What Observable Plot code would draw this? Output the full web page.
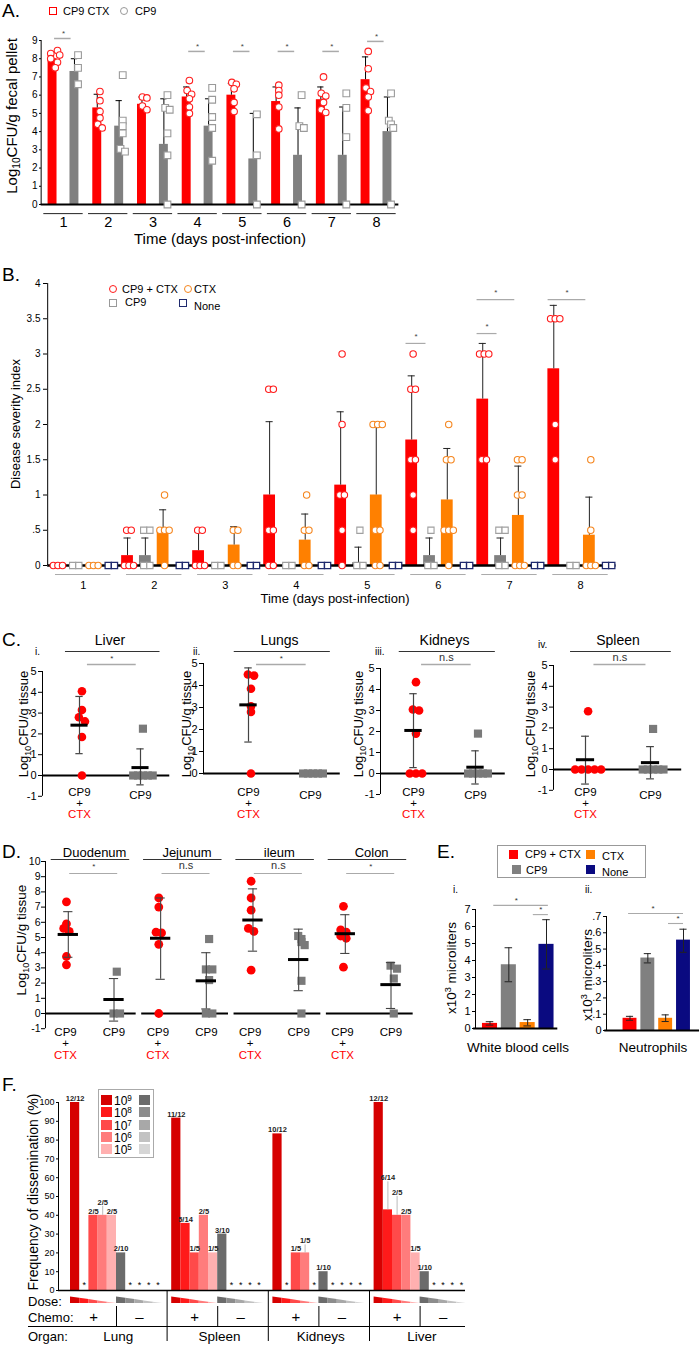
<!DOCTYPE html>
<html><head><meta charset="utf-8">
<script src="https://cdn.jsdelivr.net/npm/d3@7"></script>
<script src="https://cdn.jsdelivr.net/npm/@observablehq/plot@0.6"></script>
<style>
body{margin:0;background:#fff;}
#fig{position:relative;width:700px;height:1345px;overflow:hidden;font-family:"Liberation Sans",Arial,sans-serif;color:#000;background:#fff;}
.t{position:absolute;white-space:nowrap;line-height:1;}
.sw{position:absolute;box-sizing:border-box;}
.sp{position:relative;font-size:0.68em;top:-0.5em;}
.sb{position:relative;font-size:0.68em;top:0.3em;}
</style></head><body><div id="fig"></div>
<script>
// ================= DATA =================
// Panel A: Log10 CFU/g fecal pellet by day
const aDays = [1,2,3,4,5,6,7,8];
const aRedMean = [8.0,5.3,5.5,5.9,6.0,5.65,5.75,6.85];
const aRedErr  = [8.35,6.05,5.9,6.45,6.65,6.45,6.45,8.1];
const aGrayMean = [7.3,4.3,3.3,4.3,2.5,2.7,2.7,4.0];
const aGrayErr  = [8.0,5.7,5.8,5.8,5.0,5.3,5.35,5.9];
const aRedPts = [
  [8.28,8.0,8.45,8.2,7.8,7.5],
  [6.2,5.7,5.1,4.75,4.4,4.2],
  [5.9,5.85,5.4,5.2],
  [6.8,6.25,6.05,5.8,5.35,5.0],
  [6.7,6.6,6.35,5.6,5.1],
  [6.55,6.25,6.0,5.35,4.15],
  [7.0,6.1,5.95,5.6,5.2,5.05],
  [8.4,7.45,6.4,6.2,5.9,5.15]];
const aGrayPts = [
  [8.2,7.5,6.6],
  [7.1,4.6,4.3,3.9,3.05,2.9],
  [6.0,5.3,5.2,3.9,2.7,0],
  [6.4,5.75,4.8,4.2,2.4],
  [4.95,2.7,0],
  [6.0,4.3,4.2,0],
  [6.1,5.3,3.7,0],
  [6.1,4.6,4.4,4.2,0]];
const aSigDays = [1,4,5,6,7,8];
const aSigY = [9.11,8.4,8.4,8.4,8.4,8.95];

// Panel B: disease severity index
const bDays = [1,2,3,4,5,6,7,8];
const bGroups = ["CP9 + CTX","CP9","CTX","None"];
const bRedMean = [0,0.14,0.21,1.0,1.14,1.78,2.36,2.79];
const bGrayMean = [0,0.14,0,0,0.04,0.14,0.14,0];
const bOrangeMean = [0,0.5,0.29,0.36,1.0,0.93,0.71,0.43];
const bNavyMean = [0,0,0,0,0,0,0,0];
const bRedErr = [null,0.39,0.48,2.04,2.18,2.69,3.15,3.69];
const bGrayErr = [null,0.39,null,null,0.26,0.39,0.39,null];
const bOrangeErr = [null,0.79,0.55,0.73,1.97,1.66,1.41,0.97];
const bNavyErr = [null,null,null,null,null,null,null,null];
const bRedPts = [[0,0,0],[0.5,0.5,0,0,0],[0.5,0.5,0,0,0],[2.5,2.5,0.5,0.5,0,0],[3,2,1,1,0.5,0],[3,2.5,2.5,1.5,1.5,1,0.5],[3,3,3,1.5,1.5],[3.5,3.5,3.5,2,1.5]];
const bGrayPts = [[0,0],[0.5,0.5,0,0],[0,0],[0,0],[0.5,0,0],[0.5,0,0],[0.5,0.5,0,0],[0,0]];
const bOrangePts = [[0,0,0],[1,0.5,0.5,0.5,0],[0.5,0.5,0,0],[1,0.5,0.5,0,0],[2,2,2,0.5,0.5,0,0],[2,1.5,1.5,0.5,0.5,0.5,0],[1.5,1.5,1,1,0,0,0],[1.5,0.5,0,0,0]];
const bNavyPts = [[0,0],[0,0],[0,0],[0,0],[0,0],[0,0],[0,0],[0,0]];
const bSigDay = [6,7,7,8];
const bSigY = [3.15,3.29,3.77,3.77];
const bSigFrom = [0,0,0,0];   // group index
const bSigTo = [1,1,2,2];

// Panel C: organ CFU
const cOrgans = ["Liver","Lungs","Kidneys","Spleen"];
const cRoman = ["i.","ii.","iii.","iv."];
const cRedPts = [[4.05,3.15,2.8,2.6,1.85,0],[4.5,4.45,3.85,3.05,2.8,0],[4.35,3.05,3.0,1.9,0,0,0],[2.8,0,0,0,0,0]];
const cRedMean = [2.42,3.12,2.05,0.47];
const cRedLo = [1.05,1.43,0.28,-0.7];
const cRedHi = [3.8,4.8,3.8,1.6];
const cGrayPts = [[2.25,0,0,0,0,0],[0,0,0,0,0],[1.9,0,0,0,0,0],[1.95,0,0,0,0,0]];
const cGrayMean = [0.38,0,0.3,0.33];
const cGrayLo = [-0.45,0,-0.5,-0.45];
const cGrayHi = [1.28,0,1.08,1.1];
const cSig = ["*","*","n.s","n.s"];

// Panel D: intestinal CFU
const dOrgans = ["Duodenum","Jejunum","ileum","Colon"];
const dRedPts = [[7.35,5.9,5.6,5.4,3.75,3.2],[7.6,7.0,5.35,5.3,4.55,0],[8.7,7.6,6.8,5.6,5.4,2.85],[7.05,5.5,5.35,5.1,4.95,3.05]];
const dRedMean = [5.2,4.95,6.15,5.25];
const dRedLo = [3.7,2.25,4.1,3.95];
const dRedHi = [6.7,7.6,8.2,6.5];
const dGrayPts = [[2.75,0,0],[4.9,2.9,2.9,2.2,0,0],[5.1,4.9,4.7,4.5,2.15,0],[3.15,2.95,2.3,0]];
const dGrayMean = [0.92,2.15,3.55,1.9];
const dGrayLo = [-0.5,0.3,1.5,0.33];
const dGrayHi = [2.3,4.0,5.55,3.35];
const dSig = ["*","n.s","n.s","*"];

// Panel E: blood counts
const eGroups = ["CP9 + CTX","CP9","CTX","None"];
const eColors = ["#ff0000","#808080","#ff8000","#0a0a80"];
const eWbcMean = [0.3,3.75,0.35,4.95];
const eWbcLo = [0.2,2.75,0.15,3.5];
const eWbcHi = [0.4,4.75,0.52,6.4];
const eNeuMean = [0.075,0.445,0.075,0.555];
const eNeuLo = [0.063,0.415,0.055,0.48];
const eNeuHi = [0.087,0.472,0.096,0.622];

// Panel F: dissemination frequency
const fOrgans = ["Lung","Spleen","Kidneys","Liver"];
const fDoses = ["9","8","7","6","5"];
const fPlusVals = [[100,0,40,40,40],[91.7,35.7,20,40,20],[83.3,0,20,20,0],[100,42.9,40,40,20]];
const fMinusVals = [[20,0,0,0,0],[30,0,0,0,0],[10,0,0,0,0],[10,0,0,0,0]];
const fPlusLabels = [["12/12","","2/5","2/5","2/5"],["11/12","5/14","1/5","2/5","1/5"],["10/12","","1/5","1/5",""],["12/12","6/14","2/5","2/5","1/5"]];
const fMinusLabels = [["2/10","","","",""],["3/10","","","",""],["1/10","","","",""],["1/10","","","",""]];
const fRedShades = ["#d60000","#ff1a1a","#ff4a4a","#ff7c7c","#ffb0b0"];
const fGrayShades = ["#6b6b6b","#8c8c8c","#a8a8a8","#c2c2c2","#d6d6d6"];
const fPlusLift = [[0,0,0,9,0],[0,0,0,0,0],[0,0,0,8,0],[0,28,19,0,0]];

// ================= HELPERS =================
const fig = document.getElementById("fig");
const FONT = '"Liberation Sans", Arial, sans-serif';
const baseStyle = {fontFamily: FONT, fontSize: "11px", background: "transparent", overflow: "visible", color: "#000"};
const intFmt = d => String(Math.round(d * 100) / 100);
function txt(html, x, y, o = {}) {
  const d = document.createElement("div");
  d.className = "t"; d.innerHTML = html;
  d.style.left = x + "px"; d.style.top = y + "px";
  d.style.fontSize = (o.size || 12) + "px";
  if (o.color) d.style.color = o.color;
  if (o.weight) d.style.fontWeight = o.weight;
  const ax = o.anchor === "middle" ? "-50%" : o.anchor === "end" ? "-100%" : "0";
  d.style.transform = o.rotate ? `translate(-50%,-50%) rotate(${o.rotate}deg)` : `translate(${ax},-50%)`;
  fig.appendChild(d); return d;
}
function swatch(x, y, w, h, st) {
  const d = document.createElement("div"); d.className = "sw";
  Object.assign(d.style, {left: x + "px", top: y + "px", width: w + "px", height: h + "px"}, st);
  fig.appendChild(d); return d;
}
function place(svg, left, top) {
  svg.style.position = "absolute"; svg.style.left = left + "px"; svg.style.top = top + "px";
  fig.appendChild(svg);
}
function dodge(vals, step, thr) {
  return vals.map((v, i) => {
    const idx = [];
    vals.forEach((w, j) => { if (Math.abs(w - v) < thr) idx.push(j); });
    const r = idx.indexOf(i);
    return (r - (idx.length - 1) / 2) * step;
  });
}

// ================= PANEL A =================
{
  const top = 25;
  const offR = -0.245, offG = 0.245, hw = 0.1, cap = 0.07;
  const bars = aDays.flatMap((d, i) => [
    {x: d + offR, y: aRedMean[i], e: aRedErr[i], c: "#ff0000"},
    {x: d + offG, y: aGrayMean[i], e: aGrayErr[i], c: "#808080"}]);
  const rdots = aDays.flatMap((d, i) => { const o = dodge(aRedPts[i], 0.1, 0.22); return aRedPts[i].map((v, j) => ({x: d + offR + 0.06 + o[j], y: v})); });
  const gdots = aDays.flatMap((d, i) => { const o = dodge(aGrayPts[i], 0.1, 0.22); return aGrayPts[i].map((v, j) => ({x: d + offG + 0.08 + o[j], y: v})); });
  const sig = aSigDays.map((d, i) => ({d, y: aSigY[i]}));
  const svg = Plot.plot({
    width: 410, height: 230, marginLeft: 41, marginTop: 0, marginRight: 0, marginBottom: 0,
    x: {domain: [1, 8], range: [63, 376], axis: null},
    y: {domain: [0, 9], range: [204 - top, 40 - top]},
    color: {type: "identity"}, style: baseStyle,
    marks: [
      Plot.rectY(bars, {x1: d => d.x - hw, x2: d => d.x + hw, y1: 0, y2: "y", fill: "c"}),
      Plot.ruleX(bars, {x: "x", y1: "y", y2: "e", stroke: "#000"}),
      Plot.ruleY(bars, {y: "e", x1: d => d.x - cap, x2: d => d.x + cap, stroke: "#000"}),
      Plot.ruleX([0.5], {y1: 0, y2: 9, stroke: "#000"}),
      Plot.ruleY([0], {x1: 0.5, x2: 8.5, strokeWidth: 2}),
      Plot.axisY({ticks: d3.range(0, 10), tickFormat: intFmt, tickSize: 2, tickPadding: 2, fontSize: 10, label: null}),
      Plot.dot(rdots, {x: "x", y: "y", r: 3.3, stroke: "#ff2020", fill: "#fff", strokeWidth: 1.1}),
      Plot.dot(gdots, {x: "x", y: "y", r: 3.8, symbol: "square", stroke: "#9a9a9a", fill: "#fff", strokeWidth: 1.1}),
      Plot.ruleY(aDays, {y: -0.5, x1: d => d - 0.44, x2: d => d + 0.44, stroke: "#222"}),
      Plot.text(aDays, {x: d => d, y: -1.0, text: d => String(d), fontSize: 14.5}),
      Plot.ruleY(sig, {y: "y", x1: d => d.d - 0.2, x2: d => d.d + 0.17, stroke: "#aaa", strokeWidth: 1.5}),
      Plot.text(sig, {x: d => d.d, y: "y", dy: -5, text: () => "*", fontSize: 8, fill: "#444"})
    ]
  });
  place(svg, 0, top);
  txt("A.", 2, 10, {size: 19});
  swatch(49, 6.5, 8, 8, {border: "1.5px solid #ff0000"});
  txt("CP9 CTX", 63, 11, {size: 11});
  swatch(120, 7, 8, 8, {border: "1.2px solid #999", borderRadius: "50%"});
  txt("CP9", 135, 11, {size: 11});
  txt('Log<span class="sb">10</span>CFU/g fecal pellet', 12, 116, {size: 15, rotate: -90});
  txt("Time (days post-infection)", 220, 238, {size: 15, anchor: "middle"});
}

// ================= PANEL B =================
{
  const top = 270;
  const offs = [-0.376, -0.125, 0.125, 0.376];
  const hw = 0.083, cap = 0.05;
  const means = [bRedMean, bGrayMean, bOrangeMean, bNavyMean];
  const errs = [bRedErr, bGrayErr, bOrangeErr, bNavyErr];
  const pts = [bRedPts, bGrayPts, bOrangePts, bNavyPts];
  const cols = ["#ff0000", "#808080", "#ff8000", "#1f2a6e"];
  const pstroke = ["#ff1a1a", "#a0a0a0", "#f5861f", "#1f2a6e"];
  const bars = [];
  bDays.forEach((d, i) => bGroups.forEach((g, k) => bars.push({x: d + offs[k], y: means[k][i], e: errs[k][i], c: cols[k]})));
  const ebars = bars.filter(b => b.e != null);
  const dots = [[], [], [], []];
  bDays.forEach((d, i) => bGroups.forEach((g, k) => {
    const step = (k % 2) ? 0.088 : 0.065;
    const o = dodge(pts[k][i], step, 0.1);
    pts[k][i].forEach((v, j) => dots[k].push({x: d + offs[k] + 0.02 + o[j], y: v}));
  }));
  const sig = bSigDay.map((d, i) => ({x1: d + offs[bSigFrom[i]] - 0.08, x2: d + offs[bSigTo[i]] - 0.05, y: bSigY[i]}));
  const svg = Plot.plot({
    width: 700, height: 345, marginLeft: 47, marginTop: 0, marginRight: 0, marginBottom: 0,
    x: {domain: [1, 8], range: [82.7, 580], axis: null},
    y: {domain: [0, 4], range: [565 - top, 283 - top]},
    color: {type: "identity"}, style: baseStyle,
    marks: [
      Plot.rectY(bars, {x1: d => d.x - hw, x2: d => d.x + hw, y1: 0, y2: "y", fill: "c"}),
      Plot.ruleX(ebars, {x: "x", y1: "y", y2: "e", stroke: "#222"}),
      Plot.ruleY(ebars, {y: "e", x1: d => d.x - cap, x2: d => d.x + cap, stroke: "#222"}),
      Plot.ruleX([0.5], {y1: 0, y2: 4, stroke: "#000"}),
      Plot.ruleY([0], {x1: 0.5, x2: 8.5, strokeWidth: 2.5}),
      Plot.axisY({ticks: d3.range(0, 4.01, 0.5), tickFormat: d => d === 0.5 ? ".5" : String(d), tickSize: 4, tickPadding: 3, fontSize: 10, label: null}),
      Plot.dot(dots[0], {x: "x", y: "y", r: 3.2, stroke: pstroke[0], fill: "#fff", strokeWidth: 1.1}),
      Plot.dot(dots[1], {x: "x", y: "y", r: 3.5, symbol: "square", stroke: pstroke[1], fill: "#fff", strokeWidth: 1.1}),
      Plot.dot(dots[2], {x: "x", y: "y", r: 3.2, stroke: pstroke[2], fill: "#fff", strokeWidth: 1.1}),
      Plot.dot(dots[3], {x: "x", y: "y", r: 3.5, symbol: "square", stroke: pstroke[3], fill: "#fff", strokeWidth: 1.3}),
      Plot.ruleY(bDays, {y: -0.128, x1: d => d - 0.39, x2: d => d + 0.39, stroke: "#aaa"}),
      Plot.text(bDays, {x: d => d, y: -0.284, text: d => String(d), fontSize: 11}),
      Plot.ruleY(sig, {y: "y", x1: "x1", x2: "x2", stroke: "#aaa", strokeWidth: 1.2}),
      Plot.text(sig, {x: d => (d.x1 + d.x2) / 2, y: "y", dy: -7, text: () => "*", fontSize: 8, fill: "#444"})
    ]
  });
  place(svg, 0, top);
  txt("B.", 2, 274, {size: 19});
  swatch(109, 285, 8, 8, {border: "1.2px solid #ff1a1a", borderRadius: "50%"});
  txt("CP9 + CTX", 122, 289, {size: 11});
  swatch(184, 285, 8, 8, {border: "1.2px solid #f5861f", borderRadius: "50%"});
  txt("CTX", 194, 289, {size: 11});
  swatch(109, 299, 8, 8, {border: "1.2px solid #999"});
  txt("CP9", 125, 302, {size: 11});
  swatch(179, 299, 8, 8, {border: "1.3px solid #1f2a6e"});
  txt("None", 194, 306, {size: 11});
  txt("Disease severity index", 15, 424, {size: 13, rotate: -90});
  txt("Time (days post-infection)", 335, 598, {size: 13, anchor: "middle"});
}

// ================= PANEL C =================
const cLayout = [
  {axis: 42, xr: 79, xg: 140, y0: 775, unit: 20.8, ymin: -1, romanX: 35, romanY: 652, labX: 23},
  {axis: 203, xr: 248, xg: 310, y0: 773, unit: 22, ymin: 0, romanX: 193, romanY: 652, labX: 186},
  {axis: 380, xr: 413, xg: 475, y0: 773, unit: 21, ymin: -1, romanX: 375, romanY: 652, labX: 358},
  {axis: 553, xr: 585, xg: 650, y0: 769, unit: 20.8, ymin: -1, romanX: 538, romanY: 645, labX: 530}];
cOrgans.forEach((org, i) => {
  const L = cLayout[i];
  const left = L.axis - 45, top = 620;
  const Y = py => (L.y0 - py) / L.unit;
  const X = px => (px - L.xr) / (L.xg - L.xr);
  const rd = dodge(cRedPts[i], 0.1, 0.2), gd = dodge(cGrayPts[i], 0.08, 0.2);
  const rdots = cRedPts[i].map((v, j) => ({x: 0.04 + rd[j], y: v}));
  const gdots = cGrayPts[i].map((v, j) => ({x: 1.04 + gd[j], y: v}));
  const stats = [{x: 0, m: cRedMean[i], lo: cRedLo[i], hi: cRedHi[i]}, {x: 1, m: cGrayMean[i], lo: cGrayLo[i], hi: cGrayHi[i]}];
  const estats = stats.filter(s => s.hi > s.lo);
  const labels = [{x: 0, py: 792, t: "CP9", c: "#000"}, {x: 0, py: 803, t: "+", c: "#000"}, {x: 0, py: 814, t: "CTX", c: "#ff0000"}, {x: 1, py: 795, t: "CP9", c: "#000"}];
  const svg = Plot.plot({
    width: 180, height: 200, marginLeft: 45, marginTop: 0, marginRight: 0, marginBottom: 0,
    x: {domain: [0, 1], range: [L.xr - left, L.xg - left], axis: null},
    y: {domain: [0, 5], range: [L.y0 - top, L.y0 - 5 * L.unit - top]},
    color: {type: "identity"}, style: baseStyle,
    marks: [
      Plot.ruleX([X(L.axis)], {y1: L.ymin, y2: 5, stroke: "#000"}),
      Plot.axisY({ticks: d3.range(L.ymin, 6), tickFormat: intFmt, tickSize: 4, tickPadding: 2, fontSize: 11, label: null}),
      Plot.ruleY([0], {x1: X(L.axis), x2: 1.48, strokeWidth: 2}),
      Plot.dot(rdots, {x: "x", y: "y", r: 4.3, fill: "#ff0000"}),
      Plot.dot(gdots, {x: "x", y: "y", r: 4.6, symbol: "square", fill: "#7a7a7a"}),
      Plot.ruleX(estats, {x: "x", y1: "lo", y2: "hi", stroke: "#444", strokeWidth: 1.2}),
      Plot.ruleY(estats, {y: "lo", x1: d => d.x - 0.06, x2: d => d.x + 0.06, stroke: "#444", strokeWidth: 1.2}),
      Plot.ruleY(estats, {y: "hi", x1: d => d.x - 0.06, x2: d => d.x + 0.06, stroke: "#444", strokeWidth: 1.2}),
      Plot.ruleY(stats.filter(s => s.m > 0), {y: "m", x1: d => d.x - 0.14, x2: d => d.x + 0.14, strokeWidth: 3, stroke: "#000"}),
      Plot.text([org], {x: 0.5, y: Y(640), text: d => d, fontSize: 14}),
      Plot.ruleY([Y(651)], {x1: -0.23, x2: 1.32, stroke: "#333", strokeWidth: 1.2}),
      Plot.ruleY([Y(664)], {x1: 0.13, x2: 0.93, stroke: "#aaa", strokeWidth: 1.3}),
      Plot.text([cSig[i]], {x: 0.53, y: Y(cSig[i] === "*" ? 658 : 657), text: d => d, fontSize: cSig[i] === "*" ? 8 : 11, fill: "#333"}),
      Plot.text(labels, {x: "x", y: d => Y(d.py), text: "t", fill: "c", fontSize: 11.5})
    ]
  });
  place(svg, left, top);
  txt(cRoman[i], L.romanX, L.romanY, {size: 10});
  txt('Log<span class="sb">10</span>CFU/g tissue', L.labX, 724, {size: 13, rotate: -90});
});
txt("C.", 2, 639, {size: 19});

// ================= PANEL D =================
{
  const top = 835;
  const offR = -0.265, offG = 0.26;
  const U = 15.2, y0 = 1013;
  const Y = py => (y0 - py) / U;
  const rdots = [], gdots = [], stats = [], labels = [];
  dOrgans.forEach((o, k) => {
    const rd = dodge(dRedPts[k], 0.06, 0.25), gd = dodge(dGrayPts[k], 0.07, 0.25);
    dRedPts[k].forEach((v, j) => rdots.push({x: k + offR + 0.01 + rd[j], y: v}));
    dGrayPts[k].forEach((v, j) => gdots.push({x: k + offG + 0.03 + gd[j], y: v}));
    stats.push({x: k + offR + 0.03, m: dRedMean[k], lo: dRedLo[k], hi: dRedHi[k]});
    stats.push({x: k + offG, m: dGrayMean[k], lo: dGrayLo[k], hi: dGrayHi[k]});
    labels.push({x: k + offR, py: 1032, t: "CP9", c: "#000"}, {x: k + offR, py: 1043, t: "+", c: "#000"}, {x: k + offR, py: 1055, t: "CTX", c: "#ff0000"}, {x: k + offG, py: 1032, t: "CP9", c: "#000"});
  });
  const ks = dOrgans.map((o, k) => k);
  const xAxis = (45 - 89.5) / 92.33;
  const svg = Plot.plot({
    width: 430, height: 240, marginLeft: 45, marginTop: 0, marginRight: 0, marginBottom: 0,
    x: {domain: [0, 3], range: [89.5, 366.5], axis: null},
    y: {domain: [0, 10], range: [y0 - top, 861 - top]},
    color: {type: "identity"}, style: baseStyle,
    marks: [
      Plot.ruleX([xAxis], {y1: -1, y2: 10, stroke: "#000"}),
      Plot.axisY({ticks: d3.range(-1, 11), tickFormat: intFmt, tickSize: 4, tickPadding: 1, fontSize: 10.5, label: null}),
      Plot.ruleY(ks, {y: 0, x1: k => k === 0 ? xAxis : k - 0.44, x2: k => k + 0.5, strokeWidth: 2}),
      Plot.dot(rdots, {x: "x", y: "y", r: 4.4, fill: "#ff0000"}),
      Plot.dot(gdots, {x: "x", y: "y", r: 4.6, symbol: "square", fill: "#7a7a7a"}),
      Plot.ruleX(stats, {x: "x", y1: "lo", y2: "hi", stroke: "#444", strokeWidth: 1.1}),
      Plot.ruleY(stats, {y: "lo", x1: d => d.x - 0.05, x2: d => d.x + 0.05, stroke: "#444", strokeWidth: 1.1}),
      Plot.ruleY(stats, {y: "hi", x1: d => d.x - 0.05, x2: d => d.x + 0.05, stroke: "#444", strokeWidth: 1.1}),
      Plot.ruleY(stats, {y: "m", x1: d => d.x - 0.11, x2: d => d.x + 0.11, strokeWidth: 3, stroke: "#000"}),
      Plot.text(dOrgans, {x: (d, k) => k + 0.05, y: Y(852), text: d => d, fontSize: 13}),
      Plot.ruleY(ks, {y: Y(859), x1: k => k - 0.42, x2: k => k + 0.43, stroke: "#333", strokeWidth: 1.2}),
      Plot.ruleY(ks, {y: Y(873), x1: k => k - 0.22, x2: k => k + 0.3, stroke: "#aaa", strokeWidth: 1.2}),
      Plot.text(dSig, {x: (d, k) => k + 0.04, y: d => Y(d === "*" ? 866 : 865), text: d => d, fontSize: d => d === "*" ? 8 : 11, fill: "#333"}),
      Plot.text(labels, {x: "x", y: d => Y(d.py), text: "t", fill: "c", fontSize: 11.5})
    ]
  });
  place(svg, 0, top);
  txt("D.", 2, 851, {size: 19});
  txt('Log<span class="sb">10</span>CFU/g tissue', 22, 940, {size: 13.5, rotate: -90});
}

// ================= PANEL E =================
function drawE(o) {
  const top = 880;
  const bars = eGroups.map((g, k) => ({x: k, m: o.mean[k], lo: o.lo[k], hi: o.hi[k], c: eColors[k]}));
  const xAxis = (o.axisPx - o.xPx[0]) / ((o.xPx[1] - o.xPx[0]) / 3);
  const svg = Plot.plot({
    width: 135, height: 160, marginLeft: o.axisPx - o.left, marginTop: 0, marginRight: 0, marginBottom: 0,
    x: {domain: [0, 3], range: [o.xPx[0] - o.left, o.xPx[1] - o.left], axis: null},
    y: {domain: [0, o.yMax], range: [o.y0Px - top, o.yTopPx - top]},
    color: {type: "identity"}, style: baseStyle,
    marks: [
      Plot.rectY(bars, {x1: d => d.x - o.hw, x2: d => d.x + o.hw, y1: 0, y2: "m", fill: "c"}),
      Plot.ruleX(bars, {x: "x", y1: "lo", y2: "hi", stroke: "#222"}),
      Plot.ruleY(bars, {y: "lo", x1: d => d.x - 0.2, x2: d => d.x + 0.2, stroke: "#222"}),
      Plot.ruleY(bars, {y: "hi", x1: d => d.x - 0.2, x2: d => d.x + 0.2, stroke: "#222"}),
      Plot.ruleX([xAxis], {y1: 0, y2: o.yMax, stroke: "#000"}),
      Plot.ruleY([0], {x1: xAxis - 0.1, x2: o.baseEnd, strokeWidth: 2}),
      Plot.axisY({ticks: o.ticks, tickFormat: o.fmt, tickSize: 3, tickPadding: 2, fontSize: 11, label: null}),
      Plot.ruleY(o.sig, {y: "y", x1: "a", x2: "b", stroke: "#aaa", strokeWidth: 1.1}),
      Plot.text(o.sig, {x: "t", y: "y", dy: -5, text: () => "*", fontSize: 8, fill: "#333"})
    ]
  });
  place(svg, o.left, top);
}
drawE({left: 440, axisPx: 475, xPx: [489.5, 546], y0Px: 1028, yTopPx: 909, yMax: 7, hw: 0.4,
  ticks: d3.range(0, 8), fmt: d => String(d), mean: eWbcMean, lo: eWbcLo, hi: eWbcHi, baseEnd: 3.6,
  sig: [{y: 7.24, a: 0.2, b: 3.1, t: 1.4}, {y: 6.7, a: 2.3, b: 3.1, t: 2.7}]});
drawE({left: 570, axisPx: 606, xPx: [629.5, 683], y0Px: 1030, yTopPx: 916, yMax: 0.7, hw: 0.39,
  ticks: d3.range(0, 0.71, 0.1), fmt: d => d < 0.01 ? "0" : "." + Math.round(d * 10), mean: eNeuMean, lo: eNeuLo, hi: eNeuHi, baseEnd: 3.9,
  sig: [{y: 0.718, a: -0.08, b: 3.0, t: 1.3}, {y: 0.657, a: 2.16, b: 3.0, t: 2.7}]});
{
  txt("E.", 437, 851, {size: 19});
  swatch(497, 845, 149, 33, {border: "1px solid #999", background: "#fff"});
  swatch(509, 850, 9, 9, {background: eColors[0]});
  txt(eGroups[0], 525, 854, {size: 11});
  swatch(586, 850, 9, 9, {background: eColors[2]});
  txt(eGroups[2], 602, 856, {size: 11});
  swatch(512, 865, 9, 9, {background: eColors[1]});
  txt(eGroups[1], 526, 870, {size: 11});
  swatch(586, 865, 9, 9, {background: eColors[3]});
  txt(eGroups[3], 602, 872, {size: 11});
  txt("i.", 453, 890, {size: 10});
  txt("ii.", 585, 890, {size: 10});
  txt('x10<span class="sp">3</span> microliters', 452, 968, {size: 13.5, rotate: -90});
  txt('x10<span class="sp">3</span> microliters', 588, 975, {size: 13.5, rotate: -90});
  txt("White blood cells", 518, 1048, {size: 13.5, anchor: "middle"});
  txt("Neutrophils", 653, 1048, {size: 13.5, anchor: "middle"});
}

// ================= PANEL F =================
{
  const top = 1085;
  const U = 1.88;
  const fy = px => -px / U;
  const bars = [];
  fOrgans.forEach((org, o) => {
    fPlusVals[o].forEach((v, s) => bars.push({x: o * 11 + s, v, c: fRedShades[s], lab: fPlusLabels[o][s], lift: fPlusLift[o][s]}));
    fMinusVals[o].forEach((v, s) => bars.push({x: o * 11 + 5 + s, v, c: fGrayShades[s], lab: fMinusLabels[o][s], lift: 0}));
  });
  const nz = bars.filter(b => b.v > 0), zs = bars.filter(b => b.v === 0);
  const lifted = nz.filter(b => b.lift > 0);
  const wedge = [];
  fOrgans.forEach((org, o) => [0, 1].forEach(g => fDoses.forEach((dz, s) => {
    const x0 = o * 11 + g * 5 - 0.5, x1 = x0 + 5;
    const a = x0 + s, b = a + 1;
    const c = g ? fGrayShades[s] : fRedShades[s];
    const z = `${o}-${g}-${s}`;
    wedge.push({x: a, h: (x1 - a) / 5, z, c}, {x: b, h: (x1 - b) / 5, z, c});
  })));
  const xAxis = (58 - 74.6) / 9.2;
  const xEnd = (465 - 74.6) / 9.2;
  const svg = Plot.plot({
    width: 480, height: 260, marginLeft: 58, marginTop: 0, marginRight: 0, marginBottom: 0,
    x: {domain: [0, 33], range: [74.6, 378.2], axis: null},
    y: {domain: [0, 100], range: [1290 - top, 1102 - top]},
    color: {type: "identity"}, style: baseStyle,
    marks: [
      Plot.rectY(nz, {x1: d => d.x - 0.5, x2: d => d.x + 0.5, y1: 0, y2: "v", fill: "c"}),
      Plot.ruleX([xAxis], {y1: 0, y2: 100, stroke: "#000"}),
      Plot.axisY({ticks: d3.range(0, 101, 10), tickFormat: intFmt, tickSize: 2, tickPadding: 2, fontSize: 9, label: null}),
      Plot.ruleY([0], {x1: xAxis, x2: xEnd, strokeWidth: 1.6}),
      Plot.ruleX(lifted, {x: "x", y1: "v", y2: d => d.v + d.lift / U, stroke: "#aaa", strokeWidth: 0.8}),
      Plot.text(nz, {x: "x", y: d => d.v + d.lift / U, dy: -4, text: "lab", fontSize: 7.5, fontWeight: "bold", fill: "#222"}),
      Plot.text(zs, {x: "x", y: 0, dy: -5, text: () => "*", fontSize: 9}),
      Plot.areaY(wedge, {x: "x", y1: fy(13), y2: d => fy(13 - 6.5 * d.h), z: "z", fill: "c"}),
      Plot.ruleX(fOrgans.map((o, k) => k * 11 + 4.5), {y1: fy(16), y2: fy(36), stroke: "#000"}),
      Plot.ruleX([10, 21, 32], {y1: fy(1), y2: fy(51), stroke: "#000"}),
      Plot.ruleY([fy(36)], {x1: (28 - 74.6) / 9.2, x2: xEnd, stroke: "#000"}),
      Plot.text(fOrgans, {x: (d, k) => k * 11 + 2, y: fy(27), text: () => "+", fontSize: 15}),
      Plot.text(fOrgans, {x: (d, k) => k * 11 + 7, y: fy(27), text: () => "–", fontSize: 15}),
      Plot.text(fOrgans, {x: (d, k) => k * 11 + 4.7, y: fy(46), text: d => d, fontSize: 13.5})
    ]
  });
  place(svg, 0, top);
  txt("F.", 2, 1084, {size: 19});
  txt("Frequency of dissemination (%)", 33, 1192, {size: 14, rotate: -90});
  txt("Dose:", 28, 1301, {size: 13});
  txt("Chemo:", 28, 1317, {size: 13});
  txt("Organ:", 28, 1336, {size: 13});
  swatch(98, 1089, 56, 69, {border: "1px solid #aaa", background: "#fff"});
  fDoses.forEach((dz, s) => {
    const yc = 1100 + s * 12.3;
    swatch(101, yc - 5, 11, 10, {background: fRedShades[s]});
    txt(`10<span class="sp">${dz}</span>`, 114, yc + 1, {size: 12});
    swatch(139, yc - 5, 11, 10, {background: fGrayShades[s]});
  });
}
</script></body></html>
